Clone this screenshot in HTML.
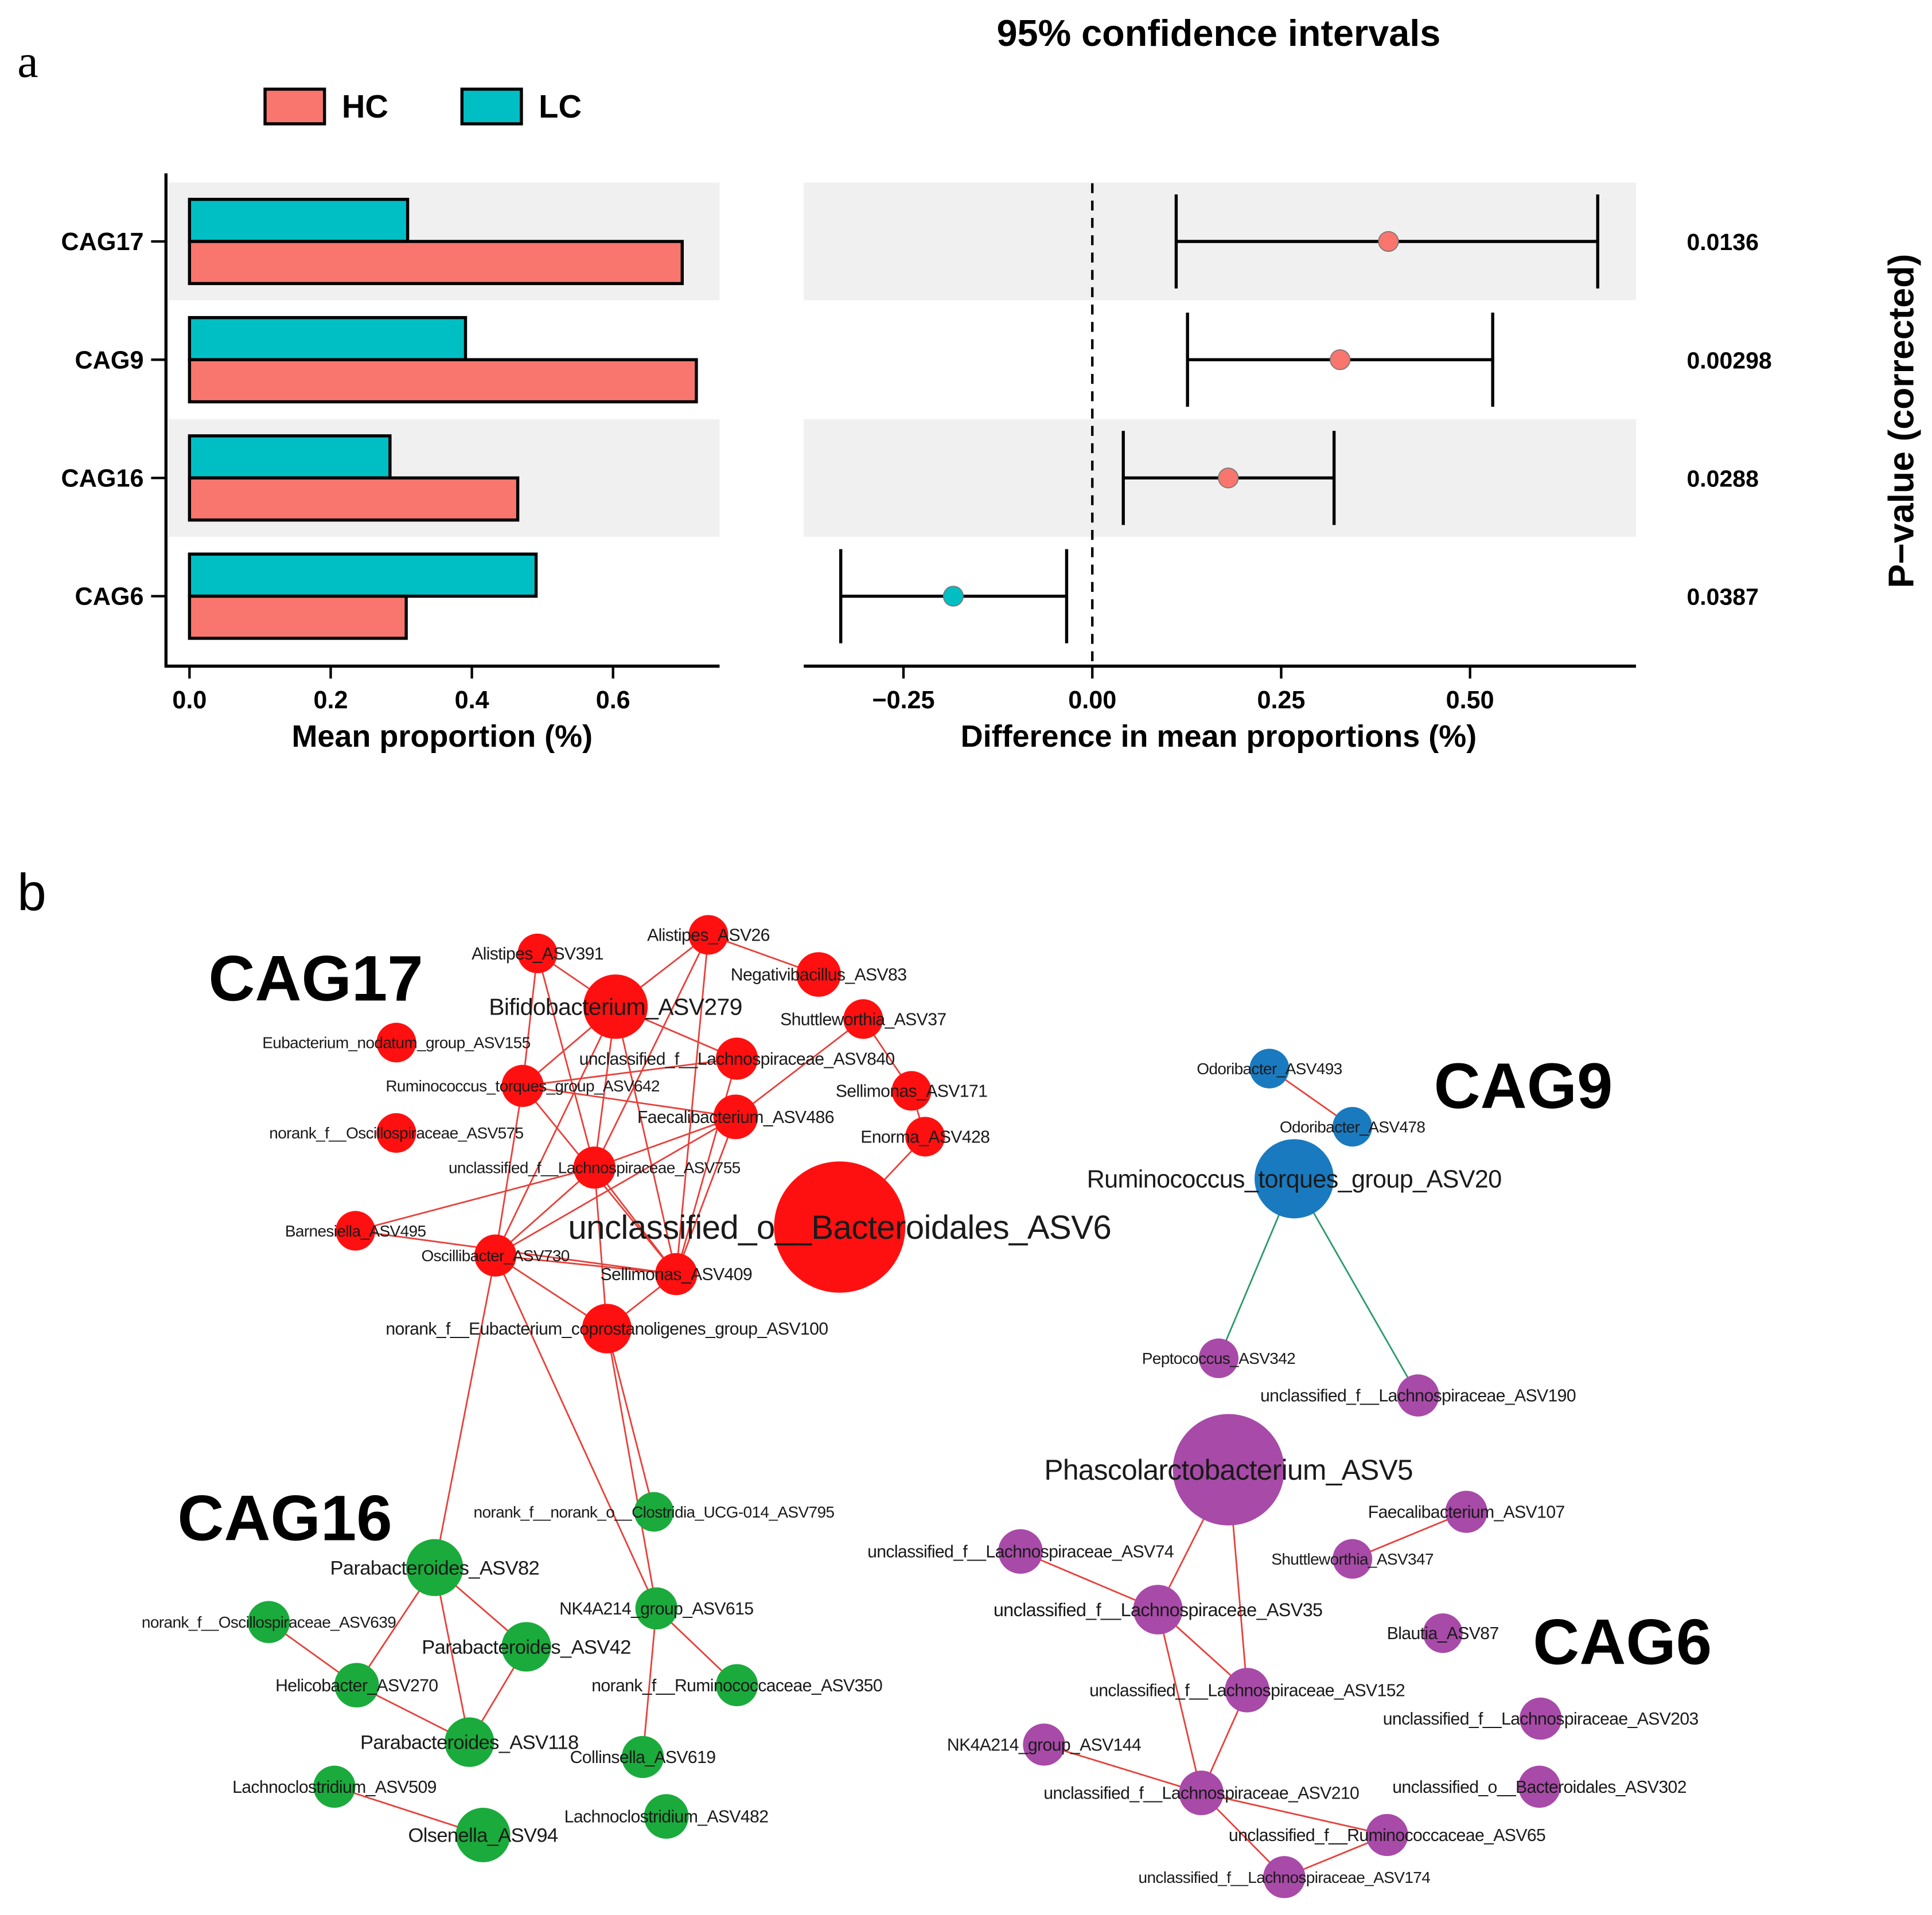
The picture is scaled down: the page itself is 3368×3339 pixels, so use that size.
<!DOCTYPE html>
<html><head><meta charset="utf-8"><style>
html,body{margin:0;padding:0;background:#fff}
svg{display:block}
text{font-family:"Liberation Sans",sans-serif}
</style></head><body>
<svg id="fig" width="3368" height="3339" viewBox="0 0 1560 1546.6" xmlns="http://www.w3.org/2000/svg">
<g id="pa">
<text x="14" y="62" font-family="Liberation Serif" font-size="38" style="font-family:'Liberation Serif',serif">a</text>
<text x="984" y="37" text-anchor="middle" font-weight="bold" font-size="30">95% confidence intervals</text>
<g>
<rect x="214" y="72" width="48" height="28" fill="#f8766d" stroke="#000" stroke-width="2.5"/>
<text x="276" y="95" font-weight="bold" font-size="26">HC</text>
<rect x="373" y="72" width="48" height="28" fill="#00bfc4" stroke="#000" stroke-width="2.5"/>
<text x="435" y="95" font-weight="bold" font-size="26">LC</text>
</g>
<g id="left"></g>
<g id="right"></g>
<text transform="translate(1545,340) rotate(-90)" text-anchor="middle" font-weight="bold" font-size="29">P−value (corrected)</text>
</g>
<g id="pb">
<text x="14" y="735" font-size="42" style="font-family:'Liberation Sans',sans-serif">b</text>
<g id="edges"></g>
<g id="nodes"></g>
<g id="labels"></g>
<text x="255" y="808" text-anchor="middle" font-weight="bold" font-size="52">CAG17</text>
<text x="1230" y="895" text-anchor="middle" font-weight="bold" font-size="52">CAG9</text>
<text x="230" y="1244" text-anchor="middle" font-weight="bold" font-size="52">CAG16</text>
<text x="1310" y="1344" text-anchor="middle" font-weight="bold" font-size="52">CAG6</text>
</g>
</svg>
<script>
const categories = ["CAG17","CAG9","CAG16","CAG6"];
const hcMeans = [0.698,0.718,0.465,0.307];
const lcMeans = [0.309,0.391,0.284,0.491];
const diffEst = [0.392,0.328,0.180,-0.184];
const diffLo = [0.111,0.126,0.041,-0.333];
const diffHi = [0.669,0.530,0.320,-0.034];
const pValues = ["0.0136","0.00298","0.0288","0.0387"];
const leftTicks = [0,0.2,0.4,0.6];
const leftTickLabels = ["0.0","0.2","0.4","0.6"];
const rightTicks = [-0.25,0,0.25,0.5];
const rightTickLabels = ["−0.25","0.00","0.25","0.50"];

const NS="http://www.w3.org/2000/svg";
function mk(p,tag,at){const e=document.createElementNS(NS,tag);for(const k in at)e.setAttribute(k,at[k]);p.appendChild(e);return e;}
const yC=i=>195+i*95.5;
const xL=v=>153+v*570;
const xR=v=>882+v*610;
const L=document.getElementById('left'),R=document.getElementById('right');
categories.forEach((c,i)=>{
  if(i%2===0){
    let b=mk(L,'rect',{x:136,y:yC(i)-47.5,width:445,height:95,fill:'#f0f0f0'});
    
    let b2=mk(R,'rect',{x:649,y:yC(i)-47.5,width:672,height:95,fill:'#f0f0f0'});
    
  }
});
mk(R,'line',{x1:882,y1:148,x2:882,y2:538,stroke:'#000','stroke-width':2,'stroke-dasharray':'8,6'});
categories.forEach((c,i)=>{
  const y=yC(i);
  let lc=mk(L,'rect',{x:xL(0),y:y-34,width:xL(lcMeans[i])-xL(0),height:34,fill:'#00bfc4',stroke:'#000','stroke-width':2.5});
  
  let hc=mk(L,'rect',{x:xL(0),y:y,width:xL(hcMeans[i])-xL(0),height:34,fill:'#f8766d',stroke:'#000','stroke-width':2.5});
  
  mk(L,'line',{x1:122,y1:y,x2:134,y2:y,stroke:'#000','stroke-width':2});
  let t=mk(L,'text',{x:116,y:y+7,'text-anchor':'end','font-weight':'bold','font-size':20});t.textContent=c;
  
  const g=mk(R,'g',{});
  
  mk(g,'line',{x1:xR(diffLo[i]),y1:y,x2:xR(diffHi[i]),y2:y,stroke:'#000','stroke-width':2.5});
  mk(g,'line',{x1:xR(diffLo[i]),y1:y-38,x2:xR(diffLo[i]),y2:y+38,stroke:'#000','stroke-width':2.5});
  mk(g,'line',{x1:xR(diffHi[i]),y1:y-38,x2:xR(diffHi[i]),y2:y+38,stroke:'#000','stroke-width':2.5});
  mk(g,'circle',{cx:xR(diffEst[i]),cy:y,r:8,fill:diffEst[i]>0?'#f8766d':'#00bfc4',stroke:'#777','stroke-width':0.8});
  let p=mk(R,'text',{x:1362,y:y+7,'font-weight':'bold','font-size':19});p.textContent=pValues[i];
  
});
mk(L,'line',{x1:134,y1:140,x2:134,y2:539,stroke:'#000','stroke-width':2.5});
mk(L,'line',{x1:133,y1:538,x2:581,y2:538,stroke:'#000','stroke-width':2.5});
leftTicks.forEach((v,i)=>{
  mk(L,'line',{x1:xL(v),y1:538,x2:xL(v),y2:548,stroke:'#000','stroke-width':2});
  let t=mk(L,'text',{x:xL(v),y:572,'text-anchor':'middle','font-weight':'bold','font-size':20});t.textContent=leftTickLabels[i];
  
});
let lt=mk(L,'text',{x:357,y:603,'text-anchor':'middle','font-weight':'bold','font-size':25});lt.textContent='Mean proportion (%)';

mk(R,'line',{x1:649,y1:538,x2:1321,y2:538,stroke:'#000','stroke-width':2.5});
rightTicks.forEach((v,i)=>{
  mk(R,'line',{x1:xR(v),y1:538,x2:xR(v),y2:548,stroke:'#000','stroke-width':2});
  let t=mk(R,'text',{x:xR(v),y:572,'text-anchor':'middle','font-weight':'bold','font-size':20});t.textContent=rightTickLabels[i];
  
});
let rt=mk(R,'text',{x:984,y:603,'text-anchor':'middle','font-weight':'bold','font-size':25});rt.textContent='Difference in mean proportions (%)';


// network
const nodeNames=["Alistipes_ASV391","Alistipes_ASV26","Negativibacillus_ASV83","Bifidobacterium_ASV279","Shuttleworthia_ASV37","Eubacterium_nodatum_group_ASV155","unclassified_f__Lachnospiraceae_ASV840","Ruminococcus_torques_group_ASV642","Sellimonas_ASV171","Faecalibacterium_ASV486","norank_f__Oscillospiraceae_ASV575","Enorma_ASV428","unclassified_f__Lachnospiraceae_ASV755","unclassified_o__Bacteroidales_ASV6","Barnesiella_ASV495","Oscillibacter_ASV730","Sellimonas_ASV409","norank_f__Eubacterium_coprostanoligenes_group_ASV100",
"Odoribacter_ASV493","Odoribacter_ASV478","Ruminococcus_torques_group_ASV20",
"Peptococcus_ASV342","unclassified_f__Lachnospiraceae_ASV190","Phascolarctobacterium_ASV5","Faecalibacterium_ASV107","unclassified_f__Lachnospiraceae_ASV74","Shuttleworthia_ASV347","unclassified_f__Lachnospiraceae_ASV35","Blautia_ASV87","unclassified_f__Lachnospiraceae_ASV152","unclassified_f__Lachnospiraceae_ASV203","NK4A214_group_ASV144","unclassified_f__Lachnospiraceae_ASV210","unclassified_o__Bacteroidales_ASV302","unclassified_f__Ruminococcaceae_ASV65","unclassified_f__Lachnospiraceae_ASV174",
"norank_f__norank_o__Clostridia_UCG-014_ASV795","Parabacteroides_ASV82","norank_f__Oscillospiraceae_ASV639","NK4A214_group_ASV615","Parabacteroides_ASV42","Helicobacter_ASV270","norank_f__Ruminococcaceae_ASV350","Parabacteroides_ASV118","Collinsella_ASV619","Lachnoclostridium_ASV509","Lachnoclostridium_ASV482","Olsenella_ASV94"];
const nodeX=[434,572,661,497,697,320,595,422,736,594,320,747,480,678,287,400,546,490, 1025,1092,1045, 984,1145,992,1184,824,1092,935,1165,1007,1244,843,970,1243,1120,1037, 528,351,217,530,425,288,595,379,519,270,538,390];
const nodeY=[770,755,787,813,823,842,855,877,881,902,915,918,943,991,994,1014,1029,1073, 863,910,952, 1097,1127,1187,1221,1253,1259,1300,1319,1365,1388,1409,1448,1443,1482,1516, 1221,1266,1310,1299,1330,1361,1361,1407,1419,1443,1467,1482];
const nodeSize=[16,16,18,26,16,16,17,17,16,18,16,16,17,53,16,17,17,20, 16,16,32, 16,17,45,17,18,16,20,16,18,17,17,18,17,17,17, 16,23,17,17,20,18,17,20,17,17,18,22];
const nodeGroup=["r","r","r","r","r","r","r","r","r","r","r","r","r","r","r","r","r","r","b","b","b","p","p","p","p","p","p","p","p","p","p","p","p","p","p","p","g","g","g","g","g","g","g","g","g","g","g","g"];
const labelSize=[14,14,14,19,14,13,14,13,14,14,13,14,13,27,13,13,14,14, 13,13,20, 13,14,23,14,14,13,15,14,14,14,14,14,14,14,13, 13,16,13,14,16,14,14,16,14,14,14,16];
const edgeFrom=[0,0,0,1,1,1,1,3,3,3,3,3,4,4,8,11,6,6,7,7,7,9,9,9,12,12,12,12,14,15,15,15,15,16,17,17, 37,37,37,38,41,40,39,39,45, 18,20,20, 23,23,24,25,27,27,29,31,32,32,34];
const edgeTo=  [3,7,12,2,3,12,16,6,7,12,15,16,8,9,11,13,7,16,9,15,16,12,15,16,14,15,17,16,16,16,17,37,39,17,36,39, 41,40,43,41,43,43,42,44,47, 19,21,22, 27,29,26,27,29,32,32,32,34,35,35];
const colors={r:'#ff1010',b:'#1a7abf',p:'#a84aa8',g:'#1aab3c'};
const edgeColor=(a,b)=>(nodeGroup[a]==='b'&&nodeGroup[b]==='p')?'#2a9a6a':'#e8403a';
const E=document.getElementById('edges'),N=document.getElementById('nodes'),LB=document.getElementById('labels');
edgeFrom.forEach((a,i)=>{
  const b=edgeTo[i];
  const l=mk(E,'line',{x1:nodeX[a],y1:nodeY[a],x2:nodeX[b],y2:nodeY[b],stroke:edgeColor(a,b),'stroke-width':1.3});
  
  
});
nodeNames.forEach((n,i)=>{
  const c=mk(N,'circle',{cx:nodeX[i],cy:nodeY[i],r:nodeSize[i],fill:colors[nodeGroup[i]]});
  
  
  const t=mk(LB,'text',{x:nodeX[i],y:nodeY[i]+labelSize[i]*0.35,'text-anchor':'middle','font-size':labelSize[i],fill:'#1a1a1a','letter-spacing':'-0.3'});
  t.textContent=n;
  
  
});
</script>
</body></html>
